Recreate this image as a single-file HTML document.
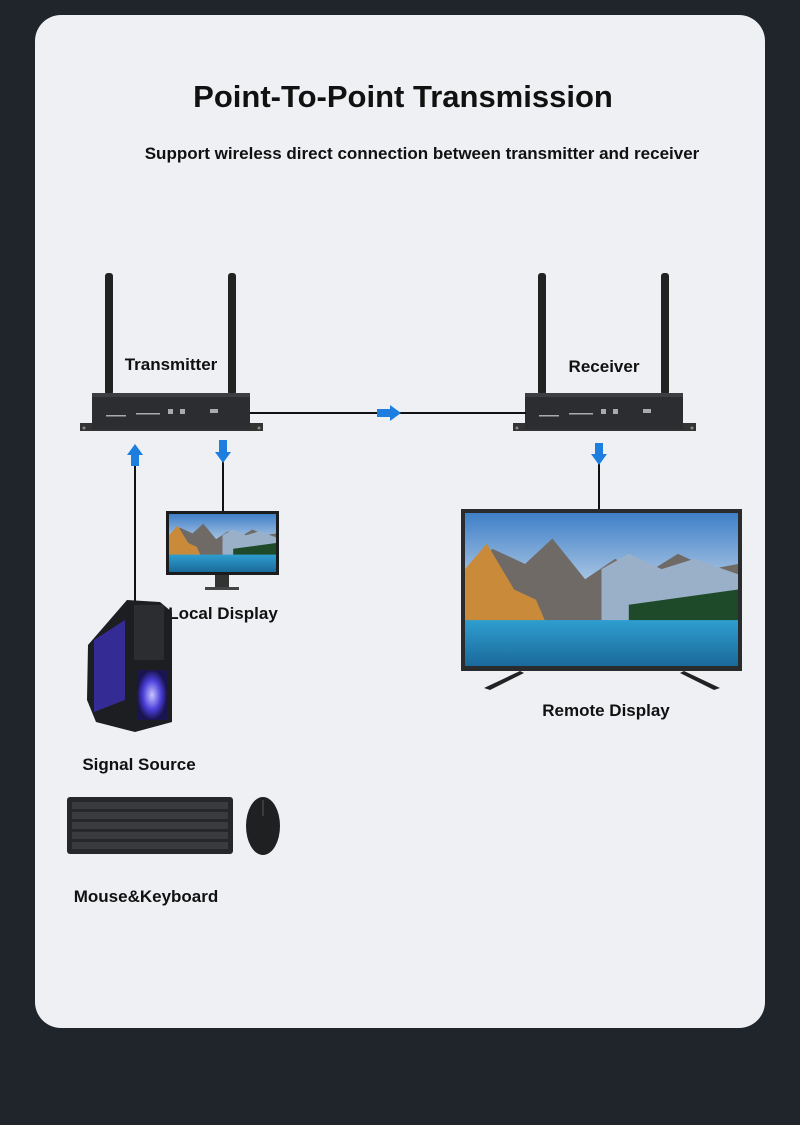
<!DOCTYPE html>
<html><head><meta charset="utf-8"><style>
html,body{margin:0;padding:0;width:800px;height:1125px;background:#20252b;overflow:hidden}
svg{display:block}
text{font-family:"Liberation Sans","DejaVu Sans",sans-serif;font-weight:bold;fill:#111}
</style></head><body>
<svg width="800" height="1125" viewBox="0 0 800 1125">
<defs>
<linearGradient id="sky" x1="0" y1="0" x2="0" y2="1"><stop offset="0" stop-color="#3f7fc8"/><stop offset="0.45" stop-color="#a9c6e3"/><stop offset="1" stop-color="#d8e3ee"/></linearGradient>
<linearGradient id="lake" x1="0" y1="0" x2="0" y2="1"><stop offset="0" stop-color="#2f9ed0"/><stop offset="1" stop-color="#1a6a9a"/></linearGradient>
<radialGradient id="fan" cx="0.5" cy="0.5" r="0.5"><stop offset="0" stop-color="#c9c6ff"/><stop offset="0.6" stop-color="#4a3ed8"/><stop offset="1" stop-color="#1a1450"/></radialGradient>
<g id="scene">
<rect x="0" y="0" width="100" height="60" fill="url(#sky)"/>
<polygon points="0,30 10,14 22,20 32,10 44,26 55,18 66,24 78,16 90,22 100,20 100,42 0,44" fill="#6f6a66"/>
<polygon points="0,22 8,12 18,30 26,34 30,44 0,48" fill="#c98a3a"/>
<polygon points="50,22 60,16 72,22 84,18 100,24 100,44 50,44" fill="#9ab0c8"/>
<polygon points="60,36 100,30 100,46 60,46" fill="#1f4a2a"/>
<rect x="0" y="42" width="100" height="18" fill="url(#lake)"/>
</g>
<g id="dev">
<rect x="25" y="0" width="8" height="122" rx="3" fill="#222"/>
<rect x="148" y="0" width="8" height="122" rx="3" fill="#222"/>
<rect x="0" y="150" width="183" height="8" fill="#333"/>
<rect x="12" y="120" width="158" height="36" fill="#2b2d30"/>
<rect x="12" y="120" width="158" height="4" fill="#3c3e42"/>
<g fill="#aaa"><rect x="26" y="142" width="20" height="1.5"/><rect x="56" y="140" width="24" height="1.5"/><rect x="88" y="136" width="5" height="5"/><rect x="100" y="136" width="5" height="5"/><rect x="130" y="136" width="8" height="4"/></g>
<circle cx="4" cy="155" r="1.5" fill="#888"/><circle cx="179" cy="155" r="1.5" fill="#888"/>
</g>
</defs>
<rect x="35" y="15" width="730" height="1013" rx="26" fill="#eef0f3"/>
<text x="403" y="107" font-size="31" text-anchor="middle">Point-To-Point Transmission</text>
<text x="422" y="159" font-size="17" text-anchor="middle">Support wireless direct connection between transmitter and receiver</text>

<use href="#dev" x="80" y="273"/>
<use href="#dev" x="513" y="273"/>
<text x="171" y="370" font-size="17" text-anchor="middle">Transmitter</text>
<text x="604" y="372" font-size="17" text-anchor="middle">Receiver</text>

<g stroke="#111" stroke-width="2">
<line x1="250" y1="413" x2="526" y2="413"/>
<line x1="135" y1="462" x2="135" y2="602"/>
<line x1="223" y1="455" x2="223" y2="512"/>
<line x1="599" y1="458" x2="599" y2="511"/>
</g>
<g fill="#1e7ee0">
<polygon points="377,409 390,409 390,405 401,413 390,421 390,417 377,417"/>
<polygon points="131,466 131,455 127,455 135,444 143,455 139,455 139,466"/>
<polygon points="219,440 227,440 227,452 231,452 223,463 215,452 219,452"/>
<polygon points="595,443 603,443 603,454 607,454 599,465 591,454 595,454"/>
</g>

<rect x="166" y="511" width="113" height="64" fill="#1b1c1e"/>
<svg x="169" y="514" width="107" height="58" viewBox="0 0 100 60" preserveAspectRatio="none"><use href="#scene"/></svg>
<rect x="215" y="575" width="14" height="12" fill="#333"/>
<rect x="205" y="587" width="34" height="3" fill="#444"/>
<text x="223" y="619" font-size="17" text-anchor="middle">Local Display</text>

<rect x="461" y="509" width="281" height="162" fill="#2a2b2d"/>
<svg x="465" y="513" width="273" height="153" viewBox="0 0 100 60" preserveAspectRatio="none"><use href="#scene"/></svg>
<polygon points="484,688 520,671 524,673 490,690" fill="#222"/>
<polygon points="720,688 684,671 680,673 714,690" fill="#222"/>
<text x="606" y="716" font-size="17" text-anchor="middle">Remote Display</text>

<polygon points="127,600 160,602 172,612 172,722 135,732 96,722 87,700 88,645" fill="#1d1e22"/>
<polygon points="94,640 125,620 125,700 94,712" fill="#3a2ea8" opacity="0.85"/>
<rect x="137" y="670" width="30" height="50" fill="url(#fan)"/>
<rect x="134" y="605" width="30" height="55" fill="#2c2d31"/>
<text x="139" y="770" font-size="17" text-anchor="middle">Signal Source</text>

<rect x="67" y="797" width="166" height="57" rx="3" fill="#262729"/>
<g fill="#3a3b3e">
<rect x="72" y="802" width="156" height="7"/><rect x="72" y="812" width="156" height="7"/><rect x="72" y="822" width="156" height="7"/><rect x="72" y="832" width="156" height="7"/><rect x="72" y="842" width="156" height="7"/>
</g>
<ellipse cx="263" cy="826" rx="17" ry="29" fill="#1f2022"/>
<line x1="263" y1="800" x2="263" y2="816" stroke="#444" stroke-width="1.5"/>
<text x="146" y="902" font-size="17" text-anchor="middle">Mouse&amp;Keyboard</text>
</svg>
</body></html>
